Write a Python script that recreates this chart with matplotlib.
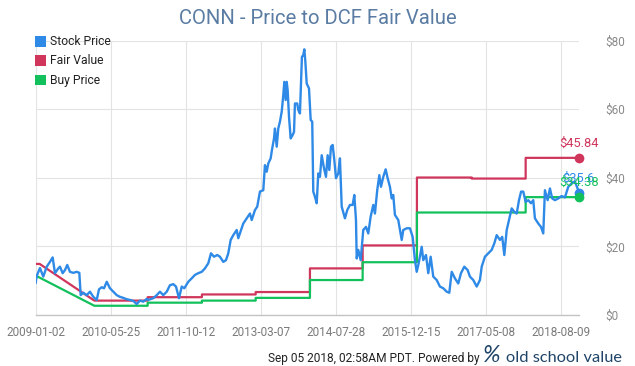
import numpy as np
import matplotlib
matplotlib.use("Agg")
import matplotlib.pyplot as plt
from matplotlib.patches import Rectangle

plt.rcParams["font.family"] = ["Roboto", "DejaVu Sans"]

# -------------------------
# data (x = week index since 2009-01-02)
# -------------------------
tick_pos = [0, 72, 144, 216, 288, 360, 432, 504]
tick_labels = ["2009-01-02", "2010-05-25", "2011-10-12", "2013-03-07",
               "2014-07-28", "2015-12-15", "2017-05-08", "2018-08-09"]

stock_t = [0, 1.0, 4.1, 7.3, 10.6, 13.7, 16.3, 18.5, 21.7, 23.3, 25.9, 28.1, 30.3, 32.9,
           36.1, 39.4, 41.9, 43.2, 45.7, 49.0, 52.1, 55.3, 58.6, 60.8, 63.4, 65.6, 68.2,
           71.3, 74.5, 77.8, 80.9, 84.1, 87.4, 90.5, 93.7, 97.0, 100.1, 103.3, 106.6,
           108.1, 112.9, 116.2, 119.3, 122.5, 125.8, 128.9, 132.1, 134.7, 137.6, 140.2,
           142.7, 146.5, 149.8, 152.9, 156.1, 159.4, 162.5, 165.7, 168.3, 171.2, 174.3,
           176.9, 180.1, 182.7, 184.9, 187.2, 189.7, 193.0, 194.5, 197.8, 199.3, 202.6,
           205.7, 207.4, 210.5, 212.7, 215.3, 218.5, 220.1, 221.8, 223.3, 225.6, 226.8,
           228.8, 229.7, 231.4, 232.9, 234.5, 236.2, 237.7, 238.7, 240.0, 241.0, 241.9,
           243.2, 244.8, 246.7, 248.0, 248.9, 251.1, 252.1, 253.7, 254.7, 255.6, 256.9,
           257.9, 258.8, 260.2, 262.4, 264.0, 265.5, 266.5, 268.1, 269.8, 271.3, 272.9,
           274.6, 276.8, 278.7, 280.3, 281.9, 283.5, 285.1, 286.7, 288.3, 290.5, 292.1,
           293.8, 296.9, 299.1, 301.7, 304.3, 305.9, 307.5, 308.2, 309.7, 312.0, 314.5,
           317.1, 319.3, 321.6, 324.1, 325.7, 327.9, 329.9, 331.5, 333.7, 336.0, 337.9,
           340.1, 341.8, 343.3, 344.9, 348.1, 351.4, 352.9, 356.2, 359.3, 361.9, 364.1,
           365.8, 367.7, 370.6, 372.1, 374.7, 376.9, 379.2, 381.7, 385.0, 388.1, 391.3,
           394.6, 397.1, 399.4, 402.5, 405.7, 408.3, 411.5, 414.7, 416.9, 420.1, 423.4,
           426.5, 428.2, 431.3, 434.5, 437.8, 440.3, 442.6, 445.7, 447.9, 449.9, 452.2,
           454.4, 457.0, 459.5, 461.8, 464.0, 466.0, 468.1, 470.4, 472.9, 475.5, 477.7,
           479.3, 482.5, 485.1, 487.3, 488.9, 491.5, 493.7, 495.9, 498.5, 501.7, 504.9,
           508.1, 511.3, 514.6, 517.7, 520.3, 521.3]
stock_price = [9.4, 11.4, 13.7, 11.2, 14.1, 15.5, 16.8, 12.2, 13.6, 14.1, 12.2, 13.1, 14.6, 12.6,
               12.3, 12.6, 12.3, 5.8, 6.5, 5.8, 6.8, 5.3, 4.4, 7.5, 8.1, 7.8, 9.7,
               7.8, 6.8, 5.8, 5.3, 5.0, 4.6, 4.4, 4.1, 3.2, 4.2, 3.9, 4.7,
               4.4, 4.9, 5.8, 6.8, 5.8, 6.8, 8.7, 9.0, 8.3, 4.9, 8.3,
               7.8, 9.7, 10.7, 11.7, 12.2, 12.6, 13.6, 15.1, 18.0, 17.0, 17.5,
               17.0, 15.5, 16.0, 18.0, 21.9, 23.3, 24.8, 22.4, 25.3, 26.7, 28.2,
               29.6, 27.7, 30.6, 31.6, 36.0, 36.4, 43.7, 41.8, 44.2, 45.7, 48.1,
               51.5, 54.4, 49.1, 54.4, 56.4, 59.3, 64.1, 68.0, 62.7, 68.0, 65.6,
               57.8, 51.5, 52.5, 53.4, 61.7, 61.7, 59.8, 58.8, 67.5, 75.3, 75.8,
               77.5, 74.3, 67.5, 66.1, 56.9, 56.4, 36.0, 34.5, 32.6, 41.3, 40.3,
               46.6, 42.8, 40.3, 46.6, 42.3, 49.1, 49.6, 45.2, 39.9, 41.3, 45.7,
               31.6, 28.2, 30.6, 32.1, 32.1, 35.0, 27.7, 16.5, 19.0, 16.0, 24.8,
               25.7, 23.8, 28.7, 32.1, 29.6, 36.4, 40.8, 37.4, 40.3, 42.5, 39.9,
               37.4, 34.0, 35.0, 29.2, 27.7, 21.9, 24.8, 25.3, 25.3, 22.8, 16.0,
               12.6, 15.1, 19.9, 16.0, 17.5, 12.2, 17.0, 11.2, 10.2, 8.3, 7.8,
               6.8, 6.5, 12.6, 10.7, 9.2, 12.2, 14.1, 13.1, 11.2, 10.2, 8.3,
               10.2, 14.1, 17.0, 18.0, 19.0, 20.9, 23.3, 21.9, 22.8, 17.5, 24.8,
               27.7, 31.1, 30.1, 29.6, 33.5, 36.0, 36.0, 33.0, 33.5, 32.6, 33.5,
               28.2, 26.7, 25.7, 23.8, 36.4, 33.5, 36.9, 34.0, 33.5, 34.0, 34.7,
               34.3, 37.4, 38.4, 38.9, 36.9, 35.6]

fair_t = [0, 3.8, 56.3, 107.5, 107.5, 159.6, 159.6, 211.2, 211.2, 263.3, 263.3,
          313.9, 313.9, 366.0, 366.0, 418.6, 418.6, 470.4, 470.4, 521.3]
fair_value = [14.9, 14.9, 4.2, 4.2, 5.2, 5.2, 6.0, 6.0, 6.7, 6.7, 13.6,
              13.6, 20.3, 20.3, 40.1, 40.1, 39.8, 39.8, 45.84, 45.84]

buy_t = [0, 56.3, 107.5, 107.5, 159.6, 159.6, 211.2, 211.2, 263.3, 263.3,
         313.9, 313.9, 366.0, 366.0, 470.4, 470.4, 521.3]
buy_price = [11.5, 2.7, 2.7, 3.6, 3.6, 4.2, 4.2, 5.0, 5.0, 10.2,
             10.2, 15.4, 15.4, 29.9, 29.9, 34.38, 34.38]

BLUE = "#2e8ae6"
RED = "#d0365c"
GREEN = "#12c15b"

# -------------------------
# figure
# -------------------------
fig = plt.figure(figsize=(6.35, 3.66), dpi=100)
ax = fig.add_axes([0.0562, 0.1393, 0.8551, 0.7494])

ax.plot(stock_t, stock_price, color=BLUE, lw=1.7, zorder=3)
ax.plot(fair_t, fair_value, color=RED, lw=1.6, zorder=2)
ax.plot(buy_t, buy_price, color=GREEN, lw=1.6, zorder=2)

# end markers + labels
ends = [(fair_t[-1], fair_value[-1], RED, "$45.84"),
        (stock_t[-1], stock_price[-1], BLUE, "$35.6"),
        (buy_t[-1], buy_price[-1], GREEN, "$34.38")]
for x, y, c, lab in ends:
    ax.plot([x], [y], "o", color=c, ms=6, clip_on=False, zorder=5)
    ax.annotate(lab, (x, y), xytext=(0, 8), textcoords="offset points",
                ha="center", va="baseline", color=c, fontsize=9.3, annotation_clip=False)

ax.set_xlim(0, stock_t[-1])
ax.set_ylim(0, 80)
ax.set_xticks(tick_pos)
ax.set_xticklabels(tick_labels)
ax.set_yticks([0, 20, 40, 60, 80])
ax.set_yticklabels(["$0", "$20", "$40", "$60", "$80"])
ax.yaxis.tick_right()
ax.tick_params(axis="y", length=0, pad=19, labelsize=8.5, labelcolor="#8a8a8a")
ax.tick_params(axis="x", length=0, pad=8, labelsize=8.5, labelcolor="#7a7a7a")
for lab in ax.get_yticklabels():
    lab.set_horizontalalignment("left")

ax.grid(True, color="#e3e3e3", lw=0.8)
ax.set_axisbelow(True)
for s in ["top", "left", "right"]:
    ax.spines[s].set_visible(False)
ax.spines["bottom"].set_color("#c4c4c4")
ax.spines["bottom"].set_linewidth(1.0)

# title
fig.text(0.5, 1 - 24 / 366, "CONN - Price to DCF Fair Value", ha="center", va="baseline",
         fontsize=14.6, color="#5a7ca3")

# legend (top left)
legend_items = [("Stock Price", BLUE), ("Fair Value", RED), ("Buy Price", GREEN)]
for i, (name, c) in enumerate(legend_items):
    yc = 41.7 + i * 19.2
    fig.add_artist(Rectangle((35 / 635, 1 - (yc + 5.3) / 366), 10.7 / 635, 10.7 / 366,
                             transform=fig.transFigure, color=c, lw=0))
    fig.text(50 / 635, 1 - yc / 366, name, ha="left", va="center", fontsize=8.7, color="#222222")

# footer
fig.text(480 / 635, 1 - 362.3 / 366, "Sep 05 2018, 02:58AM PDT. Powered by",
         ha="right", va="baseline", fontsize=8.6, color="#222222")
fig.text(483 / 635, 1 - 362 / 366, "%", ha="left", va="baseline", fontsize=17,
         color="#1f4468", family=["Lato", "DejaVu Sans"], style="italic")
fig.text(506 / 635, 1 - 362 / 366, "old school value", ha="left", va="baseline",
         fontsize=11.8, color="#1f4468", family=["Lato", "DejaVu Sans"])

fig.savefig("out.png", dpi=100)
